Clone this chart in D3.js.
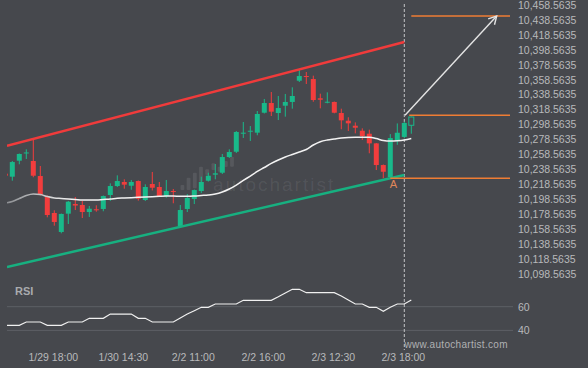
<!DOCTYPE html>
<html>
<head>
<meta charset="utf-8">
<script src="https://cdn.jsdelivr.net/npm/d3@7"></script>
<style>
html, body { margin: 0; padding: 0; background: #46484d; }
svg { display: block; font-family: "Liberation Sans", Arial, sans-serif; }
</style>
</head>
<body>
<svg id="chart"></svg>
<script>
var width = 588,
    height = 368;

// 30 minute bars, index of the first (half hidden) bar is -1
var firstIndex = -1;
var opens = [10232.8, 10228.8, 10250.2, 10260.5, 10249.8, 10229.7, 10202.9, 10180.2, 10154.8, 10179.3,
  10192.2, 10190.9, 10181.5, 10185.2, 10185.6, 10204.3, 10216.3, 10221.7, 10216.7, 10223.0,
  10197.6, 10219.0, 10215.0, 10202.9, 10209.6, 10162.8, 10185.6, 10198.9, 10209.6, 10223.4,
  10231.5, 10234.1, 10255.1, 10262.2, 10286.3, 10289.0, 10287.7, 10314.4, 10327.4, 10314.0,
  10323.8, 10328.8, 10357.2, 10363.5, 10359.5, 10333.7, 10327.8, 10328.8, 10314.0, 10303.7,
  10297.0, 10290.3, 10286.3, 10273.4, 10244.4, 10228.2, 10276.5, 10282.0, 10297.6];
var highs = [10233.7, 10249.8, 10259.8, 10265.4, 10277.9, 10243.1, 10203.6, 10183.8, 10179.5, 10196.3,
  10201.6, 10196.3, 10189.6, 10190.5, 10203.6, 10219.9, 10230.6, 10225.3, 10224.4, 10223.7,
  10218.6, 10235.1, 10221.7, 10224.4, 10212.3, 10190.9, 10205.6, 10211.6, 10228.8, 10234.1,
  10245.8, 10259.2, 10265.4, 10289.9, 10302.0, 10296.6, 10316.7, 10332.8, 10342.1, 10336.8,
  10339.5, 10348.4, 10371.6, 10368.9, 10364.0, 10339.9, 10341.7, 10329.4, 10319.8, 10308.3,
  10301.5, 10293.5, 10291.7, 10273.8, 10245.1, 10285.8, 10300.1, 10302.5, 10309.4];
var lows = [10229.0, 10223.4, 10245.4, 10252.5, 10228.0, 10203.6, 10174.4, 10163.2, 10153.0, 10165.5,
  10184.2, 10173.5, 10174.9, 10181.9, 10182.5, 10196.3, 10215.0, 10212.7, 10211.3, 10196.7,
  10196.3, 10210.4, 10201.6, 10200.7, 10193.2, 10161.9, 10181.5, 10192.2, 10207.0, 10222.3,
  10225.3, 10232.4, 10253.8, 10260.5, 10280.6, 10276.6, 10284.2, 10313.4, 10310.0, 10304.6,
  10309.1, 10319.8, 10355.5, 10352.8, 10329.1, 10320.3, 10327.0, 10313.6, 10292.3, 10290.0,
  10286.8, 10277.9, 10260.1, 10237.7, 10226.9, 10226.6, 10271.5, 10280.2, 10286.3];
var closes = [10230.1, 10248.4, 10259.2, 10261.2, 10230.1, 10204.3, 10177.5, 10168.2, 10178.9, 10195.3,
  10190.2, 10181.5, 10185.9, 10183.8, 10202.9, 10216.3, 10223.0, 10218.1, 10221.7, 10199.3,
  10215.0, 10214.0, 10202.9, 10209.6, 10208.3, 10184.2, 10200.3, 10210.9, 10221.7, 10230.1,
  10233.3, 10255.1, 10261.8, 10288.6, 10287.7, 10290.3, 10312.7, 10327.4, 10315.8, 10320.7,
  10328.8, 10336.8, 10363.5, 10362.6, 10331.4, 10331.8, 10329.1, 10314.4, 10304.2, 10300.2,
  10294.3, 10283.2, 10273.4, 10244.4, 10235.4, 10280.5, 10287.6, 10300.7, 10308.7];
var movingAvg = [10193.6, 10195.6, 10199.6, 10203.6, 10205.6, 10204.9, 10202.2, 10200.3, 10199.6, 10198.9,
  10198.3, 10197.6, 10197.6, 10197.6, 10198.3, 10198.9, 10199.9, 10200.3, 10200.7, 10201.2,
  10201.6, 10202.0, 10202.5, 10202.9, 10202.9, 10202.5, 10202.5, 10202.9, 10203.6, 10204.3,
  10205.6, 10208.3, 10212.3, 10217.6, 10223.7, 10229.7, 10235.8, 10241.1, 10246.5, 10251.1,
  10255.1, 10258.5, 10261.8, 10265.2, 10271.2, 10275.6, 10277.9, 10279.3, 10280.6, 10281.3,
  10281.5, 10281.5, 10281.5, 10279.9, 10277.2, 10276.5, 10276.9, 10277.9, 10279.9];
var rsi = [44.3, 44.3, 44.3, 47.1, 47.1, 47.1, 44.3, 44.3, 44.3, 47.1,
  47.1, 47.1, 50.2, 50.2, 50.2, 53.8, 53.8, 53.8, 53.8, 50.2,
  50.2, 47.1, 47.1, 47.1, 47.1, 50.5, 53.8, 56.6, 59.5, 59.5,
  62.3, 62.3, 62.3, 62.3, 65.4, 65.4, 65.4, 65.4, 65.4, 68.4,
  71.6, 74.7, 74.7, 71.8, 71.8, 71.8, 71.8, 71.8, 69.0, 65.7,
  62.3, 62.3, 59.5, 59.5, 56.1, 59.5, 62.3, 62.3, 65.7];

var timeTicks = [6, 16, 26, 36, 46, 56];
var timeLabels = ["1/29 18:00", "1/30 14:30", "2/2 11:00", "2/2 16:00", "2/3 12:30", "2/3 18:00"];
var priceTicks = d3.range(0, 19).map(function(i) { return 10098.5635 + 20 * i; });
var rsiTicks = [40, 60];

// channel pattern and forecast levels
var channelTop = [[-0.76, 10270.0], [56, 10409.0]];
var channelBottom = [[-0.76, 10107.9], [56, 10231.1]];
var lastBar = 56,
    pointA = 54,
    levelEnd = 71.1,
    supportLevel = 10226.6,
    breakLevel = 10311.0,
    targetLevel = 10443.8,
    targetBar = 69.2;

var green = "#19b98a",
    red = "#f23d3d",
    orange = "#ef7d34",
    textColor = "#b8b9bb";

var svg = d3.select("#chart").attr("width", width).attr("height", height);

var x = d3.scaleLinear().domain([-1, 71]).range([5.3, 509.3]);
var y = d3.scaleLinear().domain([10098.5635, 10458.5635]).range([274, 5]);
var yRsi = d3.scaleLinear().domain([40, 60]).range([330.4, 306.7]);

var bars = opens.map(function(o, i) {
  return { i: firstIndex + i, o: o, h: highs[i], l: lows[i], c: closes[i] };
});

svg.append("rect").attr("width", width).attr("height", height).attr("fill", "#46484d");

var defs = svg.append("defs");
defs.append("clipPath").attr("id", "clipMain")
  .append("rect").attr("x", 7).attr("y", 0).attr("width", 503).attr("height", 282);
defs.append("clipPath").attr("id", "clipRsi")
  .append("rect").attr("x", 7).attr("y", 282).attr("width", 506).attr("height", 70);
var grad = defs.append("linearGradient").attr("id", "maGrad")
  .attr("gradientUnits", "userSpaceOnUse")
  .attr("x1", 7).attr("x2", 70).attr("y1", 0).attr("y2", 0);
grad.append("stop").attr("offset", 0).attr("stop-color", "#8d8f93");
grad.append("stop").attr("offset", 1).attr("stop-color", "#f2f2f2");

// watermark
var mark = svg.append("g").attr("fill", "#ffffff").attr("fill-opacity", 0.09);
var logo = [[185, 190], [177.7, 190], [172.7, 188.3], [166.7, 181.7], [169.3, 175],
            [163.3, 170], [166.7, 171.7], [161, 167], [156.7, 166.7]];
mark.selectAll("rect").data(logo).enter().append("rect")
  .attr("x", function(d, i) { return 180.5 + i * 6.2; })
  .attr("y", function(d) { return d[0]; })
  .attr("width", 3.8)
  .attr("height", function(d) { return d[1] - d[0]; })
  .attr("rx", 1);
mark.append("text")
  .attr("x", 213).attr("y", 191)
  .attr("font-size", 19).attr("letter-spacing", 2)
  .attr("fill-opacity", 0.08)
  .text("autochartist");

// price axis labels
svg.append("g").selectAll("text").data(priceTicks).enter().append("text")
  .attr("x", 518)
  .attr("y", function(d) { return y(d) + 3.8; })
  .attr("font-size", 10.5)
  .attr("fill", textColor)
  .text(d3.format(",.4f"));

// rsi grid + labels
svg.append("g").selectAll("line").data(rsiTicks).enter().append("line")
  .attr("x1", 7).attr("x2", 513)
  .attr("y1", function(d) { return yRsi(d); })
  .attr("y2", function(d) { return yRsi(d); })
  .attr("stroke", "#5d6065").attr("stroke-width", 1);
svg.append("g").selectAll("text").data(rsiTicks).enter().append("text")
  .attr("x", 518)
  .attr("y", function(d) { return yRsi(d) + 3.8; })
  .attr("font-size", 10.5)
  .attr("fill", textColor)
  .text(function(d) { return d; });
svg.append("text")
  .attr("x", 15).attr("y", 295)
  .attr("font-size", 11).attr("font-weight", "bold")
  .attr("fill", "#a9abae")
  .text("RSI");

// current bar marker
svg.append("line")
  .attr("x1", x(lastBar)).attr("x2", x(lastBar))
  .attr("y1", 4).attr("y2", 350)
  .attr("stroke", "#c4c5c7").attr("stroke-width", 1)
  .attr("stroke-dasharray", "3,2");

// candles
var main = svg.append("g").attr("clip-path", "url(#clipMain)");
var candle = main.selectAll("g.candle").data(bars).enter().append("g").attr("class", "candle");
candle.append("line")
  .attr("x1", function(d) { return x(d.i); })
  .attr("x2", function(d) { return x(d.i); })
  .attr("y1", function(d) { return y(d.h); })
  .attr("y2", function(d) { return y(d.l); })
  .attr("stroke", function(d) { return d.c >= d.o ? green : red; })
  .attr("stroke-width", 1);
candle.append("rect")
  .attr("x", function(d) { return x(d.i) - 2.5; })
  .attr("y", function(d) { return y(Math.max(d.o, d.c)); })
  .attr("width", 5)
  .attr("height", function(d) { return Math.max(1, Math.abs(y(d.o) - y(d.c))); })
  .attr("fill", function(d, i) {
    if (i === bars.length - 1) return "#46484d";
    return d.c >= d.o ? green : red;
  })
  .attr("stroke", function(d, i) { return i === bars.length - 1 ? green : "none"; });

// moving average
main.append("path")
  .datum(movingAvg)
  .attr("fill", "none")
  .attr("stroke", "url(#maGrad)")
  .attr("stroke-width", 1.5)
  .attr("d", d3.line()
    .x(function(d, i) { return x(firstIndex + i); })
    .y(function(d) { return y(d); })
    .curve(d3.curveMonotoneX));

// channel
var chLine = d3.line()
  .x(function(d) { return x(d[0]); })
  .y(function(d) { return y(d[1]); });
main.append("path").datum(channelTop)
  .attr("d", chLine).attr("stroke", "#f03b3b").attr("stroke-width", 2.5).attr("fill", "none");
main.append("path").datum(channelBottom)
  .attr("d", chLine).attr("stroke", "#17b080").attr("stroke-width", 2.5).attr("fill", "none");

// forecast levels
var levels = [[pointA, supportLevel], [56.7, breakLevel], [57, targetLevel]];
main.selectAll("line.level").data(levels).enter().append("line")
  .attr("class", "level")
  .attr("x1", function(d) { return x(d[0]); })
  .attr("x2", x(levelEnd))
  .attr("y1", function(d) { return y(d[1]); })
  .attr("y2", function(d) { return y(d[1]); })
  .attr("stroke", orange)
  .attr("stroke-width", 1.5);

// arrow to target
var ax1 = x(lastBar + 0.1), ay1 = y(breakLevel),
    ax2 = x(targetBar), ay2 = y(targetLevel);
var ang = Math.atan2(ay2 - ay1, ax2 - ax1);
svg.append("line")
  .attr("x1", ax1).attr("y1", ay1).attr("x2", ax2).attr("y2", ay2)
  .attr("stroke", "#e4e4e4").attr("stroke-width", 1.4);
svg.append("path")
  .attr("d", "M" + (ax2 - 9 * Math.cos(ang - 0.5)) + "," + (ay2 - 9 * Math.sin(ang - 0.5)) +
    "L" + ax2 + "," + ay2 +
    "L" + (ax2 - 9 * Math.cos(ang + 0.5)) + "," + (ay2 - 9 * Math.sin(ang + 0.5)))
  .attr("fill", "none").attr("stroke", "#e4e4e4").attr("stroke-width", 1.4);

svg.append("text")
  .attr("x", x(pointA) + 3).attr("y", y(supportLevel) + 10)
  .attr("text-anchor", "middle")
  .attr("font-size", 11)
  .attr("fill", "#e0875a")
  .text("A");

// rsi line
svg.append("g").attr("clip-path", "url(#clipRsi)")
  .append("path")
  .datum(rsi)
  .attr("fill", "none")
  .attr("stroke", "#f0f0f0")
  .attr("stroke-width", 1.2)
  .attr("d", d3.line()
    .x(function(d, i) { return x(firstIndex + i); })
    .y(function(d) { return yRsi(d); }));

// time axis
svg.append("g").selectAll("text").data(timeTicks).enter().append("text")
  .attr("x", function(d) { return x(d) - 1; })
  .attr("y", 360.5)
  .attr("text-anchor", "middle")
  .attr("font-size", 10.5)
  .attr("fill", textColor)
  .text(function(d, i) { return timeLabels[i]; });

svg.append("text")
  .attr("x", 404.5).attr("y", 348)
  .attr("font-size", 10).attr("letter-spacing", 0.3)
  .attr("fill", "#b0b1b3")
  .text("www.autochartist.com");
</script>
</body>
</html>
